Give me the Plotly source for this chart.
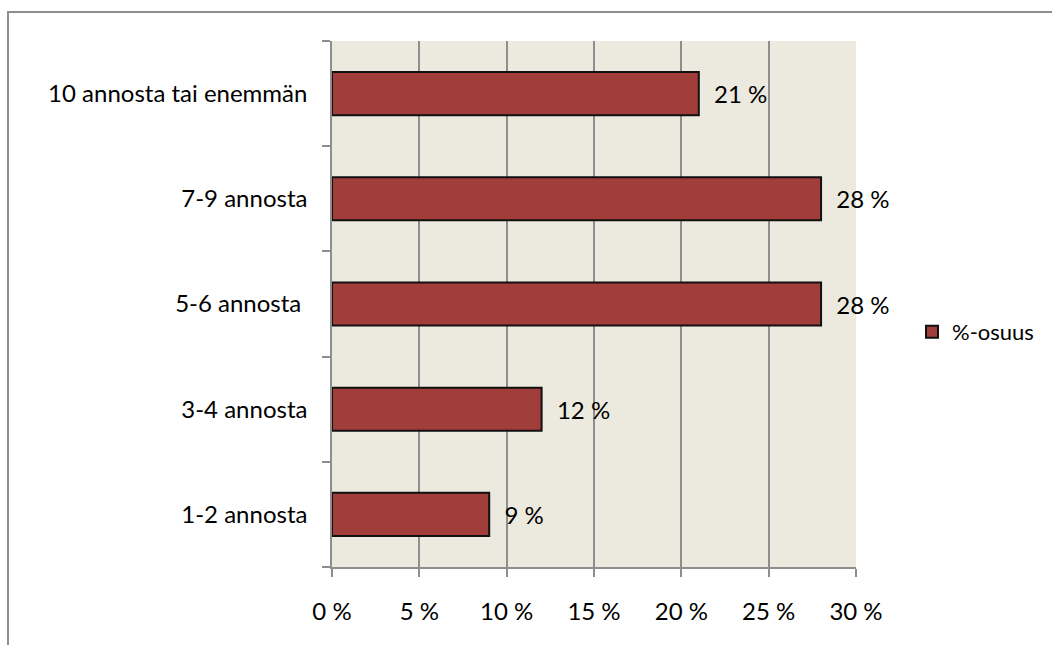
import plotly.graph_objects as go

# Share of respondents by number of portions
categories = ["1-2 annosta", "3-4 annosta", "5-6 annosta ", "7-9 annosta", "10 annosta tai enemmän"]
shares = [9, 12, 28, 28, 21]
series_name = "%-osuus"
x_ticks = [0, 5, 10, 15, 20, 25, 30]
x_tick_labels = [f"{v} %" for v in x_ticks]

W, H = 1052, 645
ML, MR, MT, MB = 332, 196, 41, 78
PW, PH = W - ML - MR, H - MT - MB

FONT = "Lato"
FS = 24
GRAY = "#8e8e8e"


def px_x(px):
    return (px - ML) / PW


def px_y(py):
    return (H - MB - py) / PH


fig = go.Figure()
fig.add_trace(go.Bar(
    y=categories,
    x=shares,
    orientation="h",
    name=series_name,
    marker=dict(color="#a13d3b", line=dict(color="#111111", width=2)),
    text=[f"  {v} %" for v in shares],
    textposition="outside",
    textfont=dict(family=FONT, size=FS, color="#000000"),
    cliponaxis=False,
    showlegend=True,
))

fig.update_layout(
    width=W, height=H,
    margin=dict(l=ML, r=MR, t=MT, b=MB, pad=0),
    paper_bgcolor="#ffffff",
    plot_bgcolor="#eceadf",
    font=dict(family=FONT, size=FS, color="#000000"),
    bargap=0.59,
    xaxis=dict(
        range=[0, 30],
        tickvals=x_ticks,
        ticktext=x_tick_labels,
        showgrid=True,
        gridcolor=GRAY,
        gridwidth=1.5,
        showline=True,
        linecolor=GRAY,
        linewidth=1.5,
        ticks="outside",
        ticklen=8,
        tickcolor=GRAY,
        tickwidth=1.5,
        ticklabelstandoff=14,
        zeroline=False,
        fixedrange=True,
    ),
    yaxis=dict(
        type="category",
        categoryorder="array",
        categoryarray=categories,
        showgrid=False,
        showline=True,
        linecolor=GRAY,
        linewidth=1.5,
        ticks="outside",
        tickson="boundaries",
        ticklen=8,
        tickcolor=GRAY,
        tickwidth=1.5,
        ticklabelstandoff=18,
        fixedrange=True,
    ),
    legend=dict(
        x=px_x(912), y=px_y(332),
        xanchor="left", yanchor="middle",
        bgcolor="rgba(0,0,0,0)",
        font=dict(family=FONT, size=22),
        itemsizing="constant",
    ),
    shapes=[
        # outer chart frame
        dict(type="rect", xref="paper", yref="paper",
             x0=px_x(8), x1=px_x(1070), y0=px_y(670), y1=px_y(12),
             line=dict(color=GRAY, width=2), fillcolor="rgba(0,0,0,0)", layer="below"),
    ],
)

fig.write_html("out.html")
